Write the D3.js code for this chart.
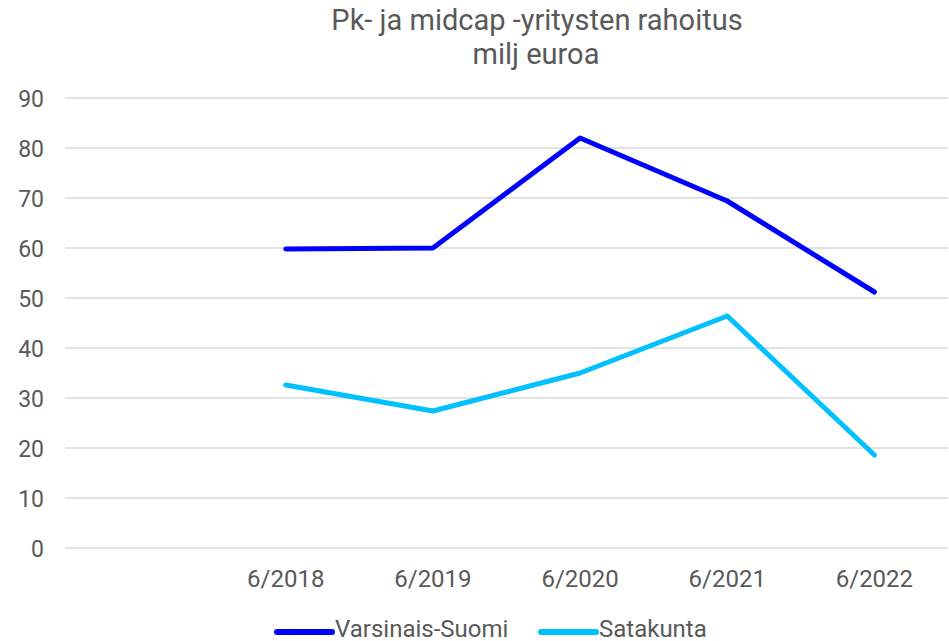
<!DOCTYPE html>
<html>
<head>
<meta charset="utf-8">
<script src="https://cdn.jsdelivr.net/npm/d3@7.9.0/dist/d3.min.js"></script>
<style>
  body { margin: 0; background: #fff; }
  text { font-family: Roboto, "Liberation Sans", sans-serif; fill: #595959; }
</style>
</head>
<body>
<svg id="chart" width="949" height="641"></svg>
<script>
// categories (first band is empty in the original)
const categories = ["", "6/2018", "6/2019", "6/2020", "6/2021", "6/2022"];
const varsinaisSuomi = [null, 59.8, 60.0, 82.0, 69.4, 51.2];
const satakunta = [null, 32.6, 27.4, 35.0, 46.4, 18.6];
const yTicks = [0, 10, 20, 30, 40, 50, 60, 70, 80, 90];

const series = [
  { name: "Varsinais-Suomi", values: varsinaisSuomi, color: "#0000ff" },
  { name: "Satakunta", values: satakunta, color: "#00c0ff" }
];

const svg = d3.select("#chart");
const margin = { top: 98, right: 1, bottom: 93, left: 65 };
const width = +svg.attr("width") - margin.left - margin.right;
const height = +svg.attr("height") - margin.top - margin.bottom;
const g = svg.append("g").attr("transform", `translate(${margin.left},${margin.top})`);

const x = d3.scaleBand().domain(categories.map((c, i) => i)).range([0, width]);
const y = d3.scaleLinear().domain([0, 90]).range([height, 0]);

// gridlines
g.selectAll(".grid")
  .data(yTicks)
  .enter()
  .append("line")
  .attr("x1", 0).attr("x2", width)
  .attr("y1", d => y(d)).attr("y2", d => y(d))
  .attr("stroke", "#d9d9d9")
  .attr("stroke-width", 1.5);

// y labels
g.selectAll(".ylab")
  .data(yTicks)
  .enter()
  .append("text")
  .attr("x", -21)
  .attr("y", d => y(d) + 8.5)
  .attr("text-anchor", "end")
  .attr("font-size", "23px")
  .text(d => d);

// x labels
g.selectAll(".xlab")
  .data(categories)
  .enter()
  .append("text")
  .attr("x", (d, i) => x(i) + x.bandwidth() / 2)
  .attr("y", height + 39)
  .attr("text-anchor", "middle")
  .attr("font-size", "24px")
  .text(d => d);

const line = d3.line()
  .defined(d => d != null)
  .x((d, i) => x(i) + x.bandwidth() / 2)
  .y(d => y(d));

series.forEach(s => {
  g.append("path")
    .datum(s.values)
    .attr("fill", "none")
    .attr("stroke", s.color)
    .attr("stroke-width", 5)
    .attr("stroke-linecap", "round")
    .attr("stroke-linejoin", "round")
    .attr("d", line);
});

// title
svg.append("text")
  .attr("x", 537)
  .attr("y", 30)
  .attr("text-anchor", "middle")
  .attr("font-size", "29px")
  .text("Pk- ja midcap -yritysten rahoitus");
svg.append("text")
  .attr("x", 536)
  .attr("y", 64)
  .attr("text-anchor", "middle")
  .attr("font-size", "29px")
  .text("milj euroa");

// legend
const legendX = [277, 541];
const legend = svg.append("g");
series.forEach((s, i) => {
  legend.append("line")
    .attr("x1", legendX[i]).attr("x2", legendX[i] + 55)
    .attr("y1", 632).attr("y2", 632)
    .attr("stroke", s.color)
    .attr("stroke-width", 6)
    .attr("stroke-linecap", "round");
  legend.append("text")
    .attr("x", legendX[i] + 58)
    .attr("y", 637)
    .attr("font-size", "24px")
    .text(s.name);
});
</script>
</body>
</html>
